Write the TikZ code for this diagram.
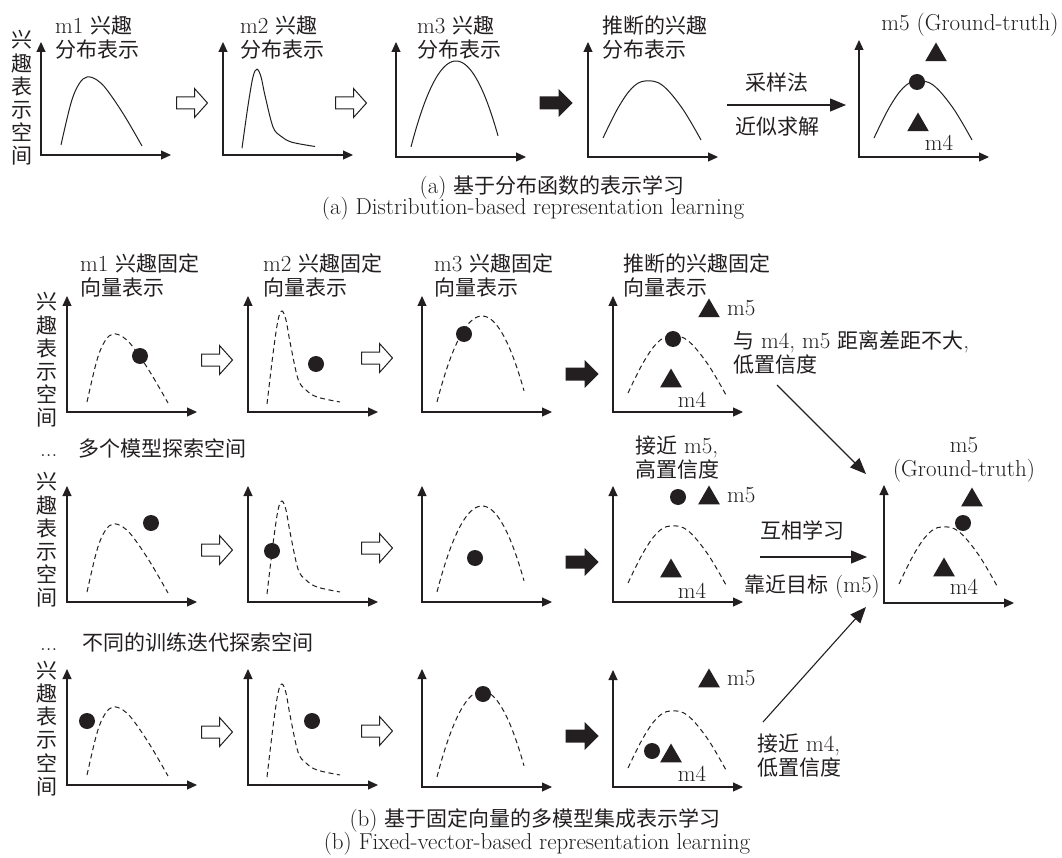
\documentclass[tikz,border=0pt]{standalone}
\usepackage{fontspec}
\newfontfamily\cjk[Scale=0.913]{Noto Sans CJK SC}
\usetikzlibrary{arrows.meta,shapes.geometric}
\definecolor{ink}{HTML}{231F20}
\newcommand\zh[1]{{\cjk #1}}
\tikzset{
  every node/.style={font=\fontsize{23}{24}\selectfont, inner sep=0pt, text=ink},
  lbl/.style={align=left, anchor=west},
  vlbl/.style={align=center, font=\fontsize{23}{23.2}\selectfont\cjk},
  axisarr/.style={draw=ink, line width=1.1pt, {Triangle[length=10pt,width=9pt]}-{Triangle[length=10pt,width=9pt]}},
  crv/.style={draw=ink, line width=1pt},
  dcrv/.style={crv, dash pattern=on 5pt off 3.5pt},
  bdot/.style={circle, fill=ink, minimum size=16pt, inner sep=0pt},
  btri/.style={regular polygon, regular polygon sides=3, fill=ink, minimum size=25pt, inner sep=0pt},
  conn/.style={draw=ink, line width=1.1pt, -{Triangle[length=16pt,width=13pt]}},
  pics/axes/.style={code={\draw[axisarr] (0,-#1) -- (0,0) -- (130,0);}},
  pics/curveA/.style={code={\draw[#1] plot[smooth,tension=0.6] coordinates {(20,-10) (30,-52) (38,-71) (46,-78) (56,-75) (66,-65) (83,-40) (101,-9)};}},
  pics/curveB/.style={code={\draw[#1] plot[smooth,tension=0.55] coordinates {(19,-8) (25,-58) (30,-92) (34,-101) (38,-92) (42,-70) (50,-33) (58,-22) (69,-15) (92,-10)};}},
  pics/curveC/.style={code={\draw[#1] plot[domain=15:102,samples=50,smooth] (\x,{-12-84*(1-((\x-60)/44.5)^2)});}},
  pics/curveD/.style={code={\draw[#1] plot[smooth,tension=0.6] coordinates {(15,-19) (30,-49) (44,-69) (57,-76) (74,-72) (94,-49) (113,-17)};}},
  pics/hollowarr/.style={code={\draw[draw=ink,line width=1pt,fill=white] (-15.5,-6) -- (2.5,-6) -- (2.5,-14.5) -- (15.5,0) -- (2.5,14.5) -- (2.5,6) -- (-15.5,6) -- cycle;}},
  pics/solidarr/.style={code={\fill[ink] (-16.5,-6.5) -- (2.5,-6.5) -- (2.5,-14) -- (16.5,0) -- (2.5,14) -- (2.5,6.5) -- (-16.5,6.5) -- cycle;}}
}
\begin{document}
\begin{tikzpicture}[x=1pt,y=-1pt]
\useasboundingbox[fill=white] (0,0) rectangle (1062,858);

% ---------- (a) ----------
\node[vlbl] (ta-v) at (22,98) {兴\\趣\\表\\示\\空\\间};
\pic at (41,155) {axes=113};
\pic at (41,155) {curveA=crv};
\node[lbl] (ta1) at (55,38) {m1 \zh{兴趣}\\\zh{分布表示}};
\pic at (192,103) {hollowarr};
\pic at (223,155) {axes=113};
\pic[yscale=0.85] at (223,155) {curveB=crv};
\node[lbl] (ta2) at (240,38) {m2 \zh{兴趣}\\\zh{分布表示}};
\pic at (351,103) {hollowarr};
\pic at (396,157) {axes=115};
\pic at (396,157) {curveC=crv};
\node[lbl] (ta3) at (417,38) {m3 \zh{兴趣}\\\zh{分布表示}};
\pic at (556,103) {solidarr};
\pic at (588,157) {axes=115};
\pic at (588,157) {curveD=crv};
\node[lbl] (ta4) at (602,38) {\zh{推断的兴趣}\\\zh{分布表示}};
\coordinate (taS) at (727,105);
\coordinate (taE) at (846,105);
\draw[conn] (taS) -- (taE);
\node (ta-samp) at (777,82) {\zh{采样法}};
\node (ta-appr) at (777,127) {\zh{近似求解}};
\pic at (859,157) {axes=117};
\pic at (859,157) {curveD=crv};
\node[bdot] (ta5-dot) at (917,82) {};
\node[btri] (ta5-t5) at (936,55) {};
\node[btri] (ta5-t4) at (918,125) {};
\node (ta5-m4) at (939,143) {m4};
\node (ta5-gt) at (970,25) {m5 (Ground-truth)};
\node (capa-zh) at (552,187) {(a) \zh{基于分布函数的表示学习}};
\node (capa-en) at (533,209) {(a) Distribution-based representation learning};

% ---------- (b) row 1 ----------
\node[vlbl] (r1-v) at (47,360) {兴\\趣\\表\\示\\空\\间};
\pic at (67,412) {axes=116};
\pic at (67,412) {curveA=dcrv};
\node[bdot] (r1p1-dot) at (140,356) {};
\node[lbl] (r1p1-l) at (80,275) {m1 \zh{兴趣固定}\\\zh{向量表示}};
\pic at (217,360) {hollowarr};
\pic at (248,412) {axes=116};
\pic at (248,412) {curveB=dcrv};
\node[bdot] (r1p2-dot) at (316,364) {};
\node[lbl] (r1p2-l) at (263,275) {m2 \zh{兴趣固定}\\\zh{向量表示}};
\pic at (377,358) {hollowarr};
\pic at (422,412) {axes=116};
\pic at (422,412) {curveC=dcrv};
\node[bdot] (r1p3-dot) at (464,334) {};
\node[lbl] (r1p3-l) at (434,275) {m3 \zh{兴趣固定}\\\zh{向量表示}};
\pic at (582,374) {solidarr};
\pic at (613,412) {axes=116};
\pic at (613,412) {curveD=dcrv};
\node[bdot] (r1p4-dot) at (673,339) {};
\node[btri] (r1p4-t4) at (671,381) {};
\node (r1p4-m4) at (692,400) {m4};
\node[btri] (r1p4-t5) at (709,311) {};
\node[anchor=west] (r1p4-m5) at (727,308) {m5};
\node[lbl] (r1p4-l) at (623,275) {\zh{推断的兴趣固定}\\\zh{向量表示}};
\node[lbl] (r1-note) at (733,352) {\zh{与} m4, m5 \zh{距离差距不大},\\\zh{低置信度}};
\coordinate (r1-aS) at (777,385);
\coordinate (fin-in1) at (866,474);
\draw[conn] (r1-aS) -- (fin-in1);

% ---------- (b) row 2 ----------
\node[lbl] (r2-head) at (40,448) {\makebox[38pt][l]{...}\zh{多个模型探索空间}};
\node[vlbl] (r2-v) at (47,540) {兴\\趣\\表\\示\\空\\间};
\pic at (67,602) {axes=116};
\pic at (67,602) {curveA=dcrv};
\node[bdot] (r2p1-dot) at (151,523) {};
\pic at (217,550) {hollowarr};
\pic at (248,602) {axes=116};
\pic at (248,602) {curveB=dcrv};
\node[bdot] (r2p2-dot) at (272,551) {};
\pic at (377,548) {hollowarr};
\pic at (422,602) {axes=116};
\pic at (422,602) {curveC=dcrv};
\node[bdot] (r2p3-dot) at (475,558) {};
\pic at (582,562) {solidarr};
\pic at (613,602) {axes=116};
\pic at (613,602) {curveD=dcrv};
\node[bdot] (r2p4-dot) at (678,497) {};
\node[btri] (r2p4-t5) at (709,498) {};
\node[anchor=west] (r2p4-m5) at (727,495) {m5};
\node[btri] (r2p4-t4) at (671,571) {};
\node (r2p4-m4) at (692,591) {m4};
\node[lbl] (r2-note) at (635,457.5) {\zh{接近} m5,\\\zh{高置信度}};
\coordinate (r2-aS) at (760,557);
\coordinate (fin-in2) at (867,557);
\draw[conn] (r2-aS) -- (fin-in2);
\node (r2-mut) at (802,530) {\zh{互相学习}};
\node (r2-tgt) at (812,587) {\zh{靠近目标} (m5)};
\pic at (884,603) {axes=118};
\pic at (884,603) {curveD=dcrv};
\node[bdot] (fin-dot) at (963,523) {};
\node[btri] (fin-t5) at (972,500) {};
\node[btri] (fin-t4) at (944,570) {};
\node (fin-m4) at (964,587) {m4};
\node[align=center] (fin-gt) at (964,459.5) {m5\\(Ground-truth)};

% ---------- (b) row 3 ----------
\node[lbl] (r3-head) at (40,642) {\makebox[42pt][l]{...}\zh{不同的训练迭代探索空间}};
\node[vlbl] (r3-v) at (47,728.5) {兴\\趣\\表\\示\\空\\间};
\pic at (67,785) {axes=116};
\pic at (67,785) {curveA=dcrv};
\node[bdot] (r3p1-dot) at (87,721) {};
\pic at (217,732) {hollowarr};
\pic at (248,785) {axes=116};
\pic at (248,785) {curveB=dcrv};
\node[bdot] (r3p2-dot) at (312,721) {};
\pic at (377,731) {hollowarr};
\pic at (422,787) {axes=118};
\pic at (422,787) {curveC=dcrv};
\node[bdot] (r3p3-dot) at (483,694) {};
\pic at (582,736) {solidarr};
\pic at (613,787) {axes=117};
\pic at (613,787) {curveD=dcrv};
\node[btri] (r3p4-t5) at (709,681) {};
\node[anchor=west] (r3p4-m5) at (727,678) {m5};
\node[bdot] (r3p4-dot) at (652,751) {};
\node[btri] (r3p4-t4) at (671,756) {};
\node (r3p4-m4) at (692,774) {m4};
\node[lbl] (r3-note) at (757,755.5) {\zh{接近} m4,\\\zh{低置信度}};
\coordinate (r3-aS) at (763,722);
\coordinate (fin-in3) at (866,607);
\draw[conn] (r3-aS) -- (fin-in3);

\node (capb-zh) at (535,820) {(b) \zh{基于固定向量的多模型集成表示学习}};
\node (capb-en) at (537,844) {(b) Fixed-vector-based representation learning};
\end{tikzpicture}
\end{document}
